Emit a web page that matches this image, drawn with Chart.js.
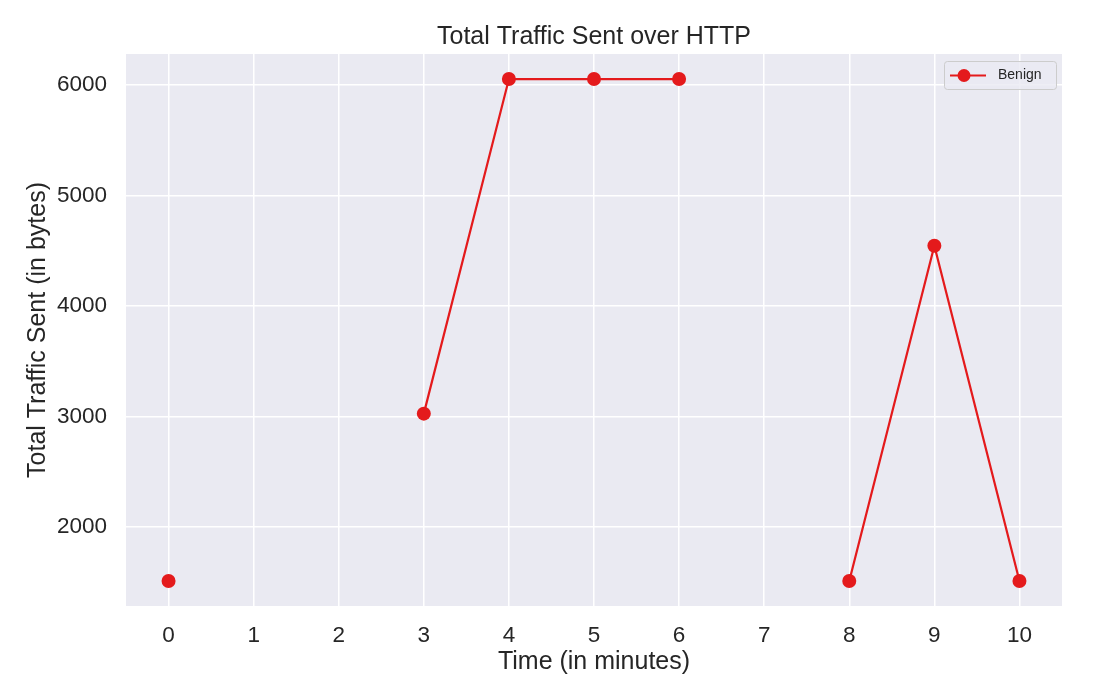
<!DOCTYPE html>
<html lang="en">
<head>
    <meta charset="UTF-8">
    <title>Total Traffic Sent over HTTP</title>
    <script src="https://cdn.jsdelivr.net/npm/chart.js"></script>
    <style>
        body { margin: 0; background: #fff; }
        #wrap { width: 1100px; height: 700px; }
    </style>
</head>
<body>
    <div id="wrap"><canvas id="trafficChart" width="1100" height="700"></canvas></div>

    <script>
        const chartTitle = 'Total Traffic Sent over HTTP';
        const minutes = [0, 1, 2, 3, 4, 5, 6, 7, 8, 9, 10];
        const benignBytes = [1510, null, null, 3025, 6055, 6055, 6055, null, 1510, 4545, 1510];
        const xTicks = [0, 1, 2, 3, 4, 5, 6, 7, 8, 9, 10];
        const yTicks = [2000, 3000, 4000, 5000, 6000];

        const red = '#E41A1C';
        const textColor = '#262626';
        const font = "'Liberation Sans', Arial, sans-serif";

        // grey seaborn-ish background behind the plot
        const bgPlugin = {
            id: 'plotBg',
            beforeDraw(chart) {
                const { ctx, chartArea: a } = chart;
                ctx.save();
                ctx.fillStyle = '#EAEAF2';
                ctx.fillRect(a.left, a.top, a.right - a.left, a.bottom - a.top);
                ctx.restore();
            }
        };

        // title centred over the plot area (matplotlib style), plus legend box
        const overlayPlugin = {
            id: 'overlay',
            afterDraw(chart) {
                const { ctx, chartArea: a } = chart;
                ctx.save();
                ctx.fillStyle = textColor;
                ctx.font = "25px " + font;
                ctx.textAlign = 'center';
                ctx.textBaseline = 'middle';
                ctx.fillText(chartTitle, (a.left + a.right) / 2, 37.5);

                const w = 112, h = 28;
                const x = a.right - w - 6, y = a.top + 7;
                ctx.fillStyle = 'rgba(234,234,242,0.8)';
                ctx.strokeStyle = '#cccccc';
                ctx.lineWidth = 1;
                ctx.beginPath();
                ctx.roundRect(x + 0.5, y + 0.5, w, h, 3);
                ctx.fill();
                ctx.stroke();
                const cy = y + h / 2 + 0.5;
                ctx.strokeStyle = red;
                ctx.lineWidth = 2;
                ctx.beginPath();
                ctx.moveTo(x + 6, cy);
                ctx.lineTo(x + 42, cy);
                ctx.stroke();
                ctx.fillStyle = red;
                ctx.beginPath();
                ctx.arc(x + 20, cy, 6.5, 0, Math.PI * 2);
                ctx.fill();
                ctx.fillStyle = textColor;
                ctx.font = "14px " + font;
                ctx.textAlign = 'left';
                ctx.fillText('Benign', x + 54, cy);
                ctx.restore();
            }
        };

        const points = minutes.map((m, i) => ({ x: m, y: benignBytes[i] }));

        new Chart(document.getElementById('trafficChart'), {
            type: 'line',
            data: {
                datasets: [{
                    label: 'Benign',
                    data: points,
                    borderColor: red,
                    backgroundColor: red,
                    borderWidth: 2.2,
                    pointRadius: 7,
                    pointHoverRadius: 7,
                    pointBorderWidth: 0,
                    spanGaps: false,
                    tension: 0
                }]
            },
            options: {
                responsive: false,
                animation: false,
                layout: { padding: { top: 54, right: 38, bottom: 0, left: 0 } },
                plugins: {
                    legend: { display: false },
                    tooltip: { enabled: false },
                    title: { display: false }
                },
                scales: {
                    x: {
                        type: 'linear',
                        min: -0.5,
                        max: 10.5,
                        afterBuildTicks(scale) { scale.ticks = xTicks.map(v => ({ value: v })); },
                        afterFit(scale) { scale.height = 94; },
                        border: { display: false },
                        grid: { color: '#ffffff', lineWidth: 1.5, drawTicks: false },
                        ticks: { color: textColor, font: { family: font, size: 22.5 }, padding: 16, callback: v => String(v) },
                        title: {
                            display: true,
                            text: 'Time (in minutes)',
                            color: textColor,
                            font: { family: font, size: 25 },
                            padding: 23
                        }
                    },
                    y: {
                        type: 'linear',
                        min: 1283,
                        max: 6282,
                        afterBuildTicks(scale) { scale.ticks = yTicks.map(v => ({ value: v })); },
                        afterFit(scale) { scale.width = 126; },
                        border: { display: false },
                        grid: { color: '#ffffff', lineWidth: 1.5, drawTicks: false },
                        ticks: { color: textColor, font: { family: font, size: 22.5 }, padding: 19, callback: v => String(v) },
                        title: {
                            display: true,
                            text: 'Total Traffic Sent (in bytes)',
                            color: textColor,
                            font: { family: font, size: 25 },
                            padding: 23
                        }
                    }
                }
            },
            plugins: [bgPlugin, overlayPlugin]
        });
    </script>
</body>
</html>
